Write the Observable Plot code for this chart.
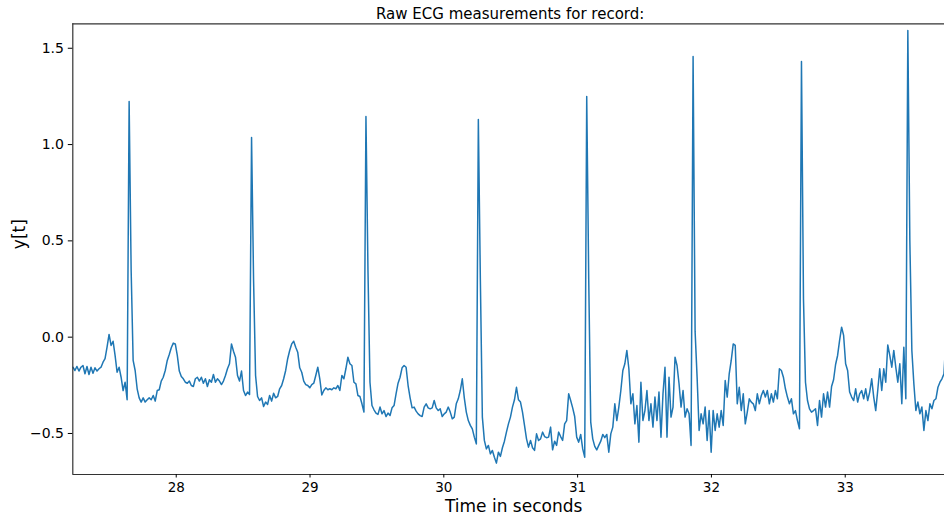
<!DOCTYPE html>
<html>
<head>
<meta charset="utf-8">
<script src="https://cdn.jsdelivr.net/npm/d3@7"></script>
<script src="https://cdn.jsdelivr.net/npm/@observablehq/plot@0.6"></script>
<style>
  html, body { margin: 0; padding: 0; background: #ffffff; overflow: hidden; }
  #chart { width: 944px; height: 516px; }
</style>
</head>
<body>
<div id="chart"></div>
<script>
// ---- Data ----
const titleText = "Raw ECG measurements for record:";
const xLabel = "Time in seconds";
const yLabel = "y[t]";

const xTicks = [28, 29, 30, 31, 32, 33];
const yTicks = [-0.5, 0.0, 0.5, 1.0, 1.5];
const xDomain = [27.227, 33.742];
const yDomain = [-0.713, 1.627];

// sampling grid of the read-off values
const tStart = 27.228;
const tStep = 0.015;

// signal values, segment by segment
const seg1 = [
  -0.156,-0.173,-0.152,-0.176,-0.156,-0.147,-0.190,-0.152,-0.194,-0.156,
  -0.187,-0.159,-0.176,-0.164,-0.156,-0.130,-0.112,-0.052,0.014,-0.043,
  -0.021,-0.095,-0.182,-0.156,-0.208,-0.277,-0.234,-0.325,1.224,0.35,
  -0.121,-0.173,-0.268,-0.315,-0.337,-0.315,-0.337,-0.325,-0.315,-0.325,
  -0.303,-0.332,-0.277,-0.273,-0.228,-0.208,-0.173,-0.121,-0.090,-0.055,
  -0.031,-0.035,-0.095,-0.176,-0.204
];
const seg2 = [
  -0.216,-0.234,-0.239,-0.228,-0.251,-0.256,-0.216,-0.208,-0.228,-0.208,
  -0.239,-0.216,-0.256,-0.221,-0.234,-0.194,-0.234,-0.216,-0.228,-0.246,
  -0.228,-0.199,-0.164,-0.138,-0.035,-0.073,-0.104,-0.199,-0.228,-0.176,
  -0.277,-0.303,-0.285,-0.298,1.037,0.30,-0.199,-0.308,-0.329,-0.315,
  -0.360,-0.337,-0.349,-0.303,-0.332,-0.291,-0.315,-0.308,-0.268,-0.251,
  -0.216,-0.173,-0.112,-0.069,-0.035
];
const seg3 = [
  -0.021,-0.052,-0.078,-0.159,-0.182,-0.228,-0.246,-0.251,-0.263,-0.246,
  -0.239,-0.199,-0.156,-0.216,-0.300,-0.277,-0.263,-0.273,-0.268,-0.273,
  -0.263,-0.268,-0.251,-0.277,-0.199,-0.216,-0.164,-0.104,-0.138,-0.147,
  -0.234,-0.242,-0.303,-0.308,-0.346,-0.389,1.146,0.35,-0.234,-0.355,
  -0.377,-0.394,-0.401,-0.363,-0.398,-0.381,-0.412,-0.394,-0.407,-0.367,
  -0.355,-0.294,-0.239,-0.208,-0.159
];
const seg4 = [
  -0.147,-0.156,-0.251,-0.315,-0.367,-0.363,-0.384,-0.398,-0.407,-0.412,
  -0.363,-0.346,-0.367,-0.372,-0.367,-0.329,-0.367,-0.381,-0.372,-0.412,
  -0.398,-0.389,-0.363,-0.389,-0.424,-0.415,-0.346,-0.320,-0.277,-0.216,
  -0.315,-0.389,-0.433,-0.458,-0.476,-0.519,-0.554,1.130,0.30,-0.415,
  -0.536,-0.580,-0.562,-0.606,-0.588,-0.623,-0.654,-0.597,-0.619,-0.574,
  -0.540,-0.493,-0.450,-0.415,-0.363
];
const seg5 = [
  -0.325,-0.260,-0.325,-0.337,-0.389,-0.458,-0.528,-0.571,-0.536,-0.574,
  -0.588,-0.502,-0.536,-0.528,-0.493,-0.516,-0.522,-0.519,-0.467,-0.585,
  -0.540,-0.562,-0.493,-0.516,-0.536,-0.450,-0.433,-0.294,-0.329,-0.367,
  -0.412,-0.519,-0.545,-0.505,-0.580,-0.623,1.250,0.30,-0.441,-0.528,
  -0.567,-0.585,-0.562,-0.540,-0.505,-0.522,-0.505,-0.597,-0.502,-0.467,
  -0.346,-0.433,-0.363,-0.277,-0.173
];
const seg6 = [
  -0.138,-0.069,-0.164,-0.346,-0.294,-0.450,-0.355,-0.545,-0.234,-0.433,
  -0.381,-0.277,-0.433,-0.346,-0.467,-0.311,-0.433,-0.285,-0.519,-0.294,
  -0.156,-0.519,-0.208,-0.415,-0.363,-0.104,-0.147,-0.242,-0.363,-0.277,
  -0.415,-0.372,-0.398,-0.562,1.457,0.03,-0.208,-0.484,-0.398,-0.450,
  -0.363,-0.536,-0.381,-0.597,-0.381,-0.484,-0.398,-0.467,-0.381,-0.458,
  -0.225,-0.311,-0.190,-0.121,-0.035
];
const seg7 = [
  -0.043,-0.346,-0.260,-0.381,-0.294,-0.450,-0.389,-0.320,-0.337,-0.346,
  -0.381,-0.294,-0.346,-0.303,-0.277,-0.311,-0.277,-0.346,-0.294,-0.337,
  -0.277,-0.320,-0.164,-0.173,-0.208,-0.268,-0.311,-0.346,-0.320,-0.398,
  -0.381,-0.433,-0.476,1.431,0.20,-0.234,-0.329,-0.372,-0.389,-0.381,
  -0.372,-0.458,-0.329,-0.415,-0.294,-0.363,-0.285,-0.363,-0.256,-0.221,
  -0.142,-0.095,-0.017,0.052,0.009
];
const seg8 = [
  -0.138,-0.173,-0.285,-0.311,-0.329,-0.268,-0.337,-0.294,-0.277,-0.320,
  -0.268,-0.329,-0.285,-0.216,-0.311,-0.381,-0.277,-0.164,-0.277,-0.164,
  -0.234,-0.040,-0.095,-0.156,-0.069,-0.156,-0.234,-0.138,-0.346,-0.052,
  -0.320,1.592,0.50,-0.069,-0.242,-0.381,-0.337,-0.398,-0.363,-0.484,
  -0.381,-0.433,-0.346,-0.372,-0.329,-0.320,-0.260,-0.234,-0.216,-0.190,
  0.000
];

const ecgValues = [...seg1, ...seg2, ...seg3, ...seg4, ...seg5, ...seg6, ...seg7, ...seg8];
const ecg = ecgValues.map((v, i) => ({t: tStart + i * tStep, v}));

const fmtY = d => d.toFixed(1).replace("-", "\u2212");

const chart = Plot.plot({
  width: 944,
  height: 516,
  marginLeft: 72.3,
  marginRight: 0,
  marginTop: 23.3,
  marginBottom: 42,
  style: {fontFamily: "'DejaVu Sans', sans-serif", color: "#000", background: "#fff", overflow: "visible"},
  x: {domain: xDomain, axis: null},
  y: {domain: yDomain, axis: null},
  marks: [
    Plot.line(ecg, {x: "t", y: "v", stroke: "#1f77b4", strokeWidth: 1.5, clip: true}),
    Plot.ruleY([yDomain[0]], {stroke: "#333", strokeWidth: 1.2}),
    Plot.ruleY([yDomain[1]], {stroke: "#333", strokeWidth: 1.2}),
    Plot.ruleX([xDomain[0]], {stroke: "#333", strokeWidth: 1.2}),
    Plot.axisX({ticks: xTicks, tickFormat: d => String(d), tickSize: 3.5, tickPadding: 4.6, fontSize: 13.5, label: null}),
    Plot.axisY({ticks: yTicks, tickFormat: fmtY, tickSize: 4.5, tickPadding: 4.4, fontSize: 14, label: null}),
    Plot.text([titleText], {text: d => d, frameAnchor: "top", lineAnchor: "middle", dy: -9.8, dx: 1.5, fontSize: 15, fill: "#000"}),
    Plot.text([xLabel], {text: d => d, frameAnchor: "bottom", lineAnchor: "middle", dy: 32.3, dx: 5, fontSize: 17, fill: "#000"}),
    Plot.text([yLabel], {text: d => d, frameAnchor: "left", lineAnchor: "middle", rotate: -90, dx: -53.5, fontSize: 17, fill: "#000"})
  ]
});
document.getElementById("chart").appendChild(chart);
</script>
</body>
</html>
